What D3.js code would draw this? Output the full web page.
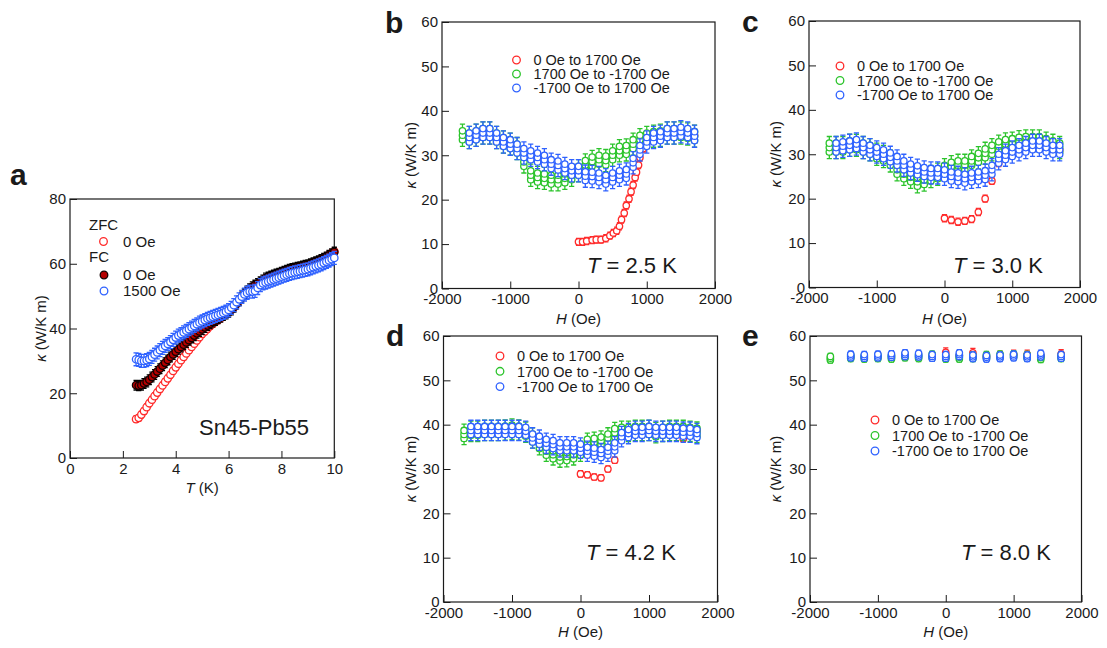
<!DOCTYPE html>
<html>
<head>
<meta charset="utf-8">
<script src="https://cdn.jsdelivr.net/npm/d3@7"></script>
<style>
	html, body { margin: 0; padding: 0; background: #fff; }
	svg { display: block; font-family: "Liberation Sans", Arial, Helvetica, sans-serif; }
</style>
</head>
<body>
<svg id="fig" width="1107" height="648"></svg>
<script>
'use strict';

// Thermal conductivity figure: panel a is κ(T), panels b-e are field loops κ(H).

// ----------------------- data -----------------------------------------

// panel a - κ vs T (K)
const tempsA = [2.5, 2.6, 2.7, 2.8, 2.9, 3.0, 3.1, 3.2, 3.3, 3.4, 3.5, 3.6, 3.7, 3.8, 3.9,
	4.0, 4.1, 4.2, 4.3, 4.4, 4.5, 4.6, 4.7, 4.8, 4.9, 5.0, 5.1, 5.2, 5.3, 5.4, 5.5, 5.6, 5.7,
	5.8, 5.9, 6.0, 6.1, 6.2, 6.3, 6.4, 6.5, 6.6, 6.7, 6.8, 6.9, 7.0, 7.1, 7.2, 7.3, 7.4, 7.5,
	7.6, 7.7, 7.8, 7.9, 8.0, 8.1, 8.2, 8.3, 8.4, 8.5, 8.6, 8.7, 8.8, 8.9, 9.0, 9.1, 9.2, 9.3,
	9.4, 9.5, 9.6, 9.7, 9.8, 9.9, 10.0];
const zfc0 = [12.0, 12.4, 13.4, 14.5, 15.7, 16.9, 18.0, 19.1, 20.2, 21.3,
	22.4, 23.5, 24.6, 25.7, 26.9, 28.0, 29.1, 30.2, 31.2, 32.3,
	33.3, 34.3, 35.3, 36.3, 37.3, 38.3, 39.1, 39.9, 40.7, 41.4,
	42.0, 42.6, 43.2, 43.8, 44.4, 45.0, 45.7, 46.5, 47.5, 48.5,
	49.6, 50.6, 51.5, 52.2, 52.8, 53.3, 53.8, 54.3, 54.9, 55.5,
	55.8, 56.1, 56.4, 56.7, 57.0, 57.3, 57.6, 57.9, 58.2, 58.5,
	58.7, 58.9, 59.1, 59.3, 59.5, 59.8, 60.1, 60.4, 60.7, 61.0,
	61.4, 61.8, 62.3, 62.8, 63.3, 63.8];
const fc0 = [22.5, 22.3, 22.5, 23.0, 23.5, 24.2, 25.0, 25.8, 26.7, 27.6,
	28.5, 29.4, 30.3, 31.2, 32.0, 32.8, 33.6, 34.3, 35.0, 35.7,
	36.4, 37.1, 37.8, 38.5, 39.1, 39.7, 40.3, 40.9, 41.5, 42.0,
	42.5, 43.0, 43.5, 44.0, 44.5, 45.0, 45.7, 46.6, 47.6, 48.6,
	49.7, 50.7, 51.6, 52.3, 52.9, 53.4, 53.9, 54.4, 55.0, 55.6,
	55.9, 56.2, 56.5, 56.8, 57.1, 57.4, 57.7, 58.0, 58.3, 58.5,
	58.7, 58.9, 59.1, 59.3, 59.5, 59.7, 60.0, 60.3, 60.6, 60.9,
	61.3, 61.7, 62.1, 62.6, 63.1, 63.6];
const fc1500 = [30.5, 30.3, 30.0, 30.0, 30.2, 30.6, 31.2, 31.9, 32.6, 33.3,
	34.0, 34.6, 35.2, 35.8, 36.5, 37.2, 37.8, 38.3, 38.8, 39.3,
	39.8, 40.3, 40.8, 41.3, 41.8, 42.2, 42.6, 43.0, 43.3, 43.6,
	43.9, 44.2, 44.5, 44.8, 45.2, 45.7, 46.4, 47.2, 48.1, 49.0,
	49.8, 50.5, 51.0, 51.4, 51.4, 51.6, 52.5, 53.4, 53.9, 54.2,
	54.5, 54.8, 55.1, 55.4, 55.7, 56.0, 56.3, 56.6, 56.9, 57.1,
	57.3, 57.5, 57.7, 57.9, 58.1, 58.3, 58.6, 58.9, 59.2, 59.5,
	59.8, 60.2, 60.6, 61.0, 61.4, 61.8];
const errA = [1.0, 1.5, 2.0];           // ZFC 0, FC 0, FC 1500 half error (W/K m)

// panels b-d - field grid of the ±1700 Oe sweeps (Oe)
const loopFields = [-1700, -1600, -1500, -1400, -1300, -1200, -1100, -1000, -900, -800,
	-700, -600, -500, -400, -300, -200, -100, 0, 100, 200, 300, 400, 500, 600, 700, 800,
	900, 1000, 1100, 1200, 1300, 1400, 1500, 1600, 1700];
const virginFields = [0, 100, 200, 300, 400, 500, 600, 700, 800, 900, 1000, 1100, 1200,
	1300, 1400, 1500, 1600, 1700];

// b - T = 2.5 K
const redFieldsB = [0, 60, 120, 200, 260, 330, 400, 460, 510, 560, 600, 630, 670, 700, 740,
	770, 800, 830, 850, 880, 900, 950, 1000, 1100, 1200, 1300, 1400, 1500, 1600, 1700];
const redB = [10.5, 10.5, 10.7, 10.9, 11, 11, 11.3, 11.9, 12.5, 13, 14, 15.5, 17, 18.7, 20.2,
	21.8, 23.3, 25, 26.2, 27.8, 29.5, 31.5, 32.8, 33.8, 34.5, 35, 35.5, 35.3, 35, 34.5];
const greenB = [34.5, 34, 34.5, 35, 35, 34, 33, 32.5, 31.5, 28.5, 25.5, 25, 24.8, 24.5, 24.5,
	24.8, 25.5, 26.5, 27.8, 28.6, 29, 28.8, 30, 31, 31.2, 32.5, 33.5, 34, 34.3, 34.5, 35, 35,
	35, 34.8, 34.3];
const blueB = [null, 34, 34.5, 35, 35, 34, 33, 32.5, 31.5, 30.5, 30, 29.5, 29, 28, 27.7, 27,
	26.5, 26.5, 25.3, 25.2, 25, 24.5, 25, 25.5, 25.8, 28.3, 31.2, 33, 34, 34.3, 35, 35, 35.3,
	35, 34.3];

// c - T = 3.0 K
const redC = [15.6, 15.2, 14.8, 15, 15.4, 17, 20, 24, 28, 29.5, 30.5, 31.5, 32, 32.5, 33, 33,
	32, 31];
const greenC = [31.5, 31.5, 31.5, 32, 32, 31.5, 31, 30, 29.5, 28.5, 26.5, 25.5, 24.8, 23.8,
	24.2, 25, 25.5, 26.5, 27.2, 27.5, 27.5, 28.5, 29.2, 30.2, 31, 31.8, 32.3, 32.5, 32.8, 33,
	33, 33, 32.5, 32, 31.5];
const blueC = [null, 31.5, 31.8, 32, 32.3, 31.5, 31, 30.5, 30, 29.3, 28.5, 27.5, 26.8, 26.4,
	26, 25.8, 25.8, 25.5, 25, 24.8, 24.5, 24.8, 25, 25.3, 26.5, 29, 29.8, 30.5, 31, 31.5, 32,
	32, 31.5, 31, 31];

// d - T = 4.2 K
const redD = [28.9, 28.7, 28.2, 28, 30, 32, 37.5, 38.3, 38.5, 38.5, 38.5, 38.5, 38.5, 38.5,
	38.3, 36.8, 38, 38.8];
const greenD = [37.8, 38.5, 38.5, 38.7, 38.7, 38.7, 38.8, 39, 38.8, 38.3, 37, 35.5, 34, 33.2,
	32.7, 32.8, 33.2, 34, 35.8, 36, 36.3, 37, 38.2, 38.5, 38.5, 38.7, 38.7, 38.7, 38.2, 38.5,
	38.7, 38.7, 38.7, 38.5, 38.3];
const blueD = [null, 38.7, 38.7, 38.7, 38.7, 38.7, 38.7, 38.7, 38.7, 38.5, 37, 36.5, 35.8,
	35.5, 35, 35, 35, 34.7, 34, 33.8, 33.5, 34, 35, 37.3, 38, 38.5, 38.5, 38.7, 38.5, 38.5,
	38.5, 38.5, 38.3, 38.3, 38];

// e - T = 8.0 K (coarser field grid)
const fieldsE = [-1700, -1400, -1200, -1000, -800, -600, -400, -200, 0, 200, 400, 600, 800,
	1000, 1200, 1400, 1700];
const redE = [null, null, null, null, null, null, null, null, 56.3, 55.6, 56.2, 55.4, 55.6,
	55.8, 55.8, 55.5, 55.9];
const greenE = [55, 55.3, 55.2, 55.3, 55.2, 55.5, 55.3, 55.5, 55.2, 55.2, 55.3, 55.4, 55.5,
	55.6, 55.4, 55.1, 55.3];
const blueE = [null, 55.5, 55.4, 55.5, 55.6, 55.8, 55.7, 55.4, 55.4, 55.8, 55.3, 55.2, 55.3,
	55.5, 55.3, 55.7, 55.4];

// repeated readings at a field sit about ±spread apart; err = error-bar half length
// order: red, green, blue
const spreadB = [0, 1.0, 1.0], errB = [0.8, 1.5, 1.5];
const spreadC = [0, 1.0, 1.0], errC = [0.8, 1.5, 1.5];
const spreadD = [0, 0.9, 0.9], errD = [0.7, 1.4, 1.4];
const spreadE = [0, 0.4, 0.4], errE = [1.0, 0.7, 0.7];

const ticksT = [0, 2, 4, 6, 8, 10];
const ticksKappaA = [0, 20, 40, 60, 80];
const ticksH = [-2000, -1000, 0, 1000, 2000];
const ticksKappa = [0, 10, 20, 30, 40, 50, 60];
const sweepLabels = ['0 Oe to 1700 Oe', '1700 Oe to -1700 Oe', '-1700 Oe to 1700 Oe'];
const tempLabels = ['2.5', '3.0', '4.2', '8.0'];

// ----------------------- look -----------------------------------------

const PALETTE = {
	ink: '#1a1a1a',
	red: '#ff2a2a',
	green: '#2cc42c',
	blue: '#2f62ff',
	darkFill: '#b50000',
	darkEdge: '#140000'
};
const SWEEP_COLORS = [PALETTE.red, PALETTE.green, PALETTE.blue];

const VIEW = {
	tick: 7,
	tickFont: 15,
	titleFont: 15,
	legendFont: 14.5,
	markerR: 3.2,
	markerRA: 3.7,
	cap: 2.6
};

const REPLICATE_STEPS = [-1, 0, 1];

const svg = d3.select('#fig');

// ----------------------- helpers --------------------------------------

function styleAxis(sel) {
	sel.select('.domain').remove();
	sel.attr('font-family', null).attr('font-size', null);
	sel.selectAll('.tick line').attr('stroke', PALETTE.ink).attr('stroke-width', 1);
	sel.selectAll('.tick text').attr('fill', PALETTE.ink).style('font-size', `${VIEW.tickFont}px`);
}

function buildPanel(box, xDomain, yDomain, xTicks, yTicks) {
	const x = d3.scaleLinear().domain(xDomain).range([box.left, box.right]);
	const y = d3.scaleLinear().domain(yDomain).range([box.bottom, box.top]);
	const g = svg.append('g');
	const fmt = (d) => String(d);

	g.append('g')
		.attr('transform', `translate(0,${box.bottom})`)
		.call(d3.axisBottom(x).tickValues(xTicks).tickSizeInner(-VIEW.tick).tickSizeOuter(0)
			.tickPadding(5).tickFormat(fmt))
		.call(styleAxis);
	g.append('g')
		.attr('transform', `translate(${box.left},0)`)
		.call(d3.axisLeft(y).tickValues(yTicks).tickSizeInner(-VIEW.tick).tickSizeOuter(0)
			.tickPadding(4).tickFormat(fmt))
		.call(styleAxis);

	g.append('rect')
		.attr('x', box.left).attr('y', box.top)
		.attr('width', box.right - box.left).attr('height', box.bottom - box.top)
		.attr('fill', 'none').attr('stroke', PALETTE.ink).attr('stroke-width', 1.2);

	return { g, x, y, plot: g.append('g') };
}

function errPath(px, yLo, yHi) {
	const c = VIEW.cap;
	return `M${px - c},${yHi}H${px + c}M${px},${yHi}V${yLo}M${px - c},${yLo}H${px + c}`;
}

// one series: every reading gets an error bar, then an open marker on top
function plotSeries(panel, xs, ys, opt) {
	const pts = [];
	xs.forEach((h, i) => {
		const v = ys[i];
		if (v == null) return;
		const steps = opt.spread ? REPLICATE_STEPS : [0];
		for (const k of steps) pts.push({ h, v: v + k * opt.spread });
	});
	const layer = panel.plot.append('g');
	layer.append('path')
		.attr('d', pts.map((p) => errPath(panel.x(p.h), panel.y(p.v - opt.err), panel.y(p.v + opt.err))).join(''))
		.attr('fill', 'none')
		.attr('stroke', opt.errColor || opt.color)
		.attr('stroke-width', 1.3);
	layer.selectAll('circle').data(pts).join('circle')
		.attr('cx', (p) => panel.x(p.h))
		.attr('cy', (p) => panel.y(p.v))
		.attr('r', opt.r || VIEW.markerR)
		.attr('fill', opt.fill || '#fff')
		.attr('stroke', opt.color)
		.attr('stroke-width', 1.3);
}

function text(x, y, str, size, extra) {
	const t = svg.append('text')
		.attr('x', x).attr('y', y)
		.attr('fill', PALETTE.ink)
		.style('font-size', `${size}px`)
		.text(str);
	if (extra) extra(t);
	return t;
}

function panelLetter(x, y, letter) {
	text(x, y, letter, 30, (t) => t.style('font-weight', 'bold'));
}

function kappaTitle(x, cy) {
	const t = svg.append('text')
		.attr('transform', `translate(${x},${cy}) rotate(-90)`)
		.attr('text-anchor', 'middle')
		.attr('fill', PALETTE.ink)
		.style('font-size', `${VIEW.titleFont}px`);
	t.append('tspan').style('font-style', 'italic').text('κ');
	t.append('tspan').text(' (W/K m)');
}

function italicTitle(cx, y, sym, rest, size) {
	const t = svg.append('text')
		.attr('x', cx).attr('y', y)
		.attr('text-anchor', 'middle')
		.attr('fill', PALETTE.ink)
		.style('font-size', `${size}px`);
	t.append('tspan').style('font-style', 'italic').text(sym);
	t.append('tspan').text(rest);
	return t;
}

function legendMarker(cx, cy, stroke, fill) {
	svg.append('circle')
		.attr('cx', cx).attr('cy', cy).attr('r', 3.8)
		.attr('fill', fill || '#fff')
		.attr('stroke', stroke)
		.attr('stroke-width', 1.3);
}

// ----------------------- panel a --------------------------------------

function drawPanelA() {
	const box = { left: 70, right: 334.3, top: 199, bottom: 458 };
	const p = buildPanel(box, [0, 10], [0, 80], ticksT, ticksKappaA);
	const r = VIEW.markerRA;

	plotSeries(p, tempsA, zfc0, { color: PALETTE.red, spread: 0, err: errA[0], r });
	plotSeries(p, tempsA, fc0, { color: PALETTE.darkEdge, fill: PALETTE.darkFill, errColor: '#000', spread: 0, err: errA[1], r });
	plotSeries(p, tempsA, fc1500, { color: PALETTE.blue, spread: 0, err: errA[2], r });

	text(89, 230, 'ZFC', 15);
	legendMarker(103.5, 241.5, PALETTE.red);
	text(123, 241.5, '0 Oe', 15, (t) => t.attr('dy', '0.36em'));
	text(89, 262, 'FC', 15);
	legendMarker(104, 275, PALETTE.darkEdge, PALETTE.darkFill);
	text(123, 275, '0 Oe', 15, (t) => t.attr('dy', '0.36em'));
	legendMarker(104, 291, PALETTE.blue);
	text(123, 291, '1500 Oe', 15, (t) => t.attr('dy', '0.36em'));

	text(199, 435, 'Sn45-Pb55', 22);
	kappaTitle(46, (box.top + box.bottom) / 2);
	italicTitle((box.left + box.right) / 2, 493, 'T', ' (K)', VIEW.titleFont);
	panelLetter(10, 185, 'a');
}

// ----------------------- panels b-e -----------------------------------

const FIELD_PANELS = [
	{
		letter: 'b', letterAt: [385, 33], temp: tempLabels[0],
		box: { left: 442, right: 715, top: 22, bottom: 288.5 },
		legendAt: [516.5, 60, 14], tempAt: [587, 273], yTitleX: 416, xTitleY: 324,
		red: [redFieldsB, redB], green: [loopFields, greenB], blue: [loopFields, blueB],
		spread: spreadB, err: errB
	},
	{
		letter: 'c', letterAt: [742, 32], temp: tempLabels[1],
		box: { left: 809, right: 1080, top: 21, bottom: 287.5 },
		legendAt: [840, 66, 14.5], tempAt: [953, 273], yTitleX: 781, xTitleY: 324,
		red: [virginFields, redC], green: [loopFields, greenC], blue: [loopFields, blueC],
		spread: spreadC, err: errC
	},
	{
		letter: 'd', letterAt: [386, 346], temp: tempLabels[2],
		box: { left: 443.5, right: 717.5, top: 336, bottom: 602 },
		legendAt: [500, 356, 15.3], tempAt: [586, 560], yTitleX: 416, xTitleY: 637,
		red: [virginFields, redD], green: [loopFields, greenD], blue: [loopFields, blueD],
		spread: spreadD, err: errD
	},
	{
		letter: 'e', letterAt: [742, 346], temp: tempLabels[3],
		box: { left: 810, right: 1081.5, top: 336, bottom: 602 },
		legendAt: [875, 420, 15.5], tempAt: [961, 560], yTitleX: 781, xTitleY: 637,
		red: [fieldsE, redE], green: [fieldsE, greenE], blue: [fieldsE, blueE],
		spread: spreadE, err: errE
	}
];

function drawFieldPanel(spec) {
	const p = buildPanel(spec.box, [-2000, 2000], [0, 60], ticksH, ticksKappa);
	[spec.red, spec.green, spec.blue].forEach(([xs, ys], i) => {
		plotSeries(p, xs, ys, { color: SWEEP_COLORS[i], spread: spec.spread[i], err: spec.err[i] });
	});

	const [lx, ly, ldy] = spec.legendAt;
	sweepLabels.forEach((label, i) => {
		legendMarker(lx, ly + i * ldy, SWEEP_COLORS[i]);
		text(lx + 17, ly + i * ldy, label, VIEW.legendFont, (t) => t.attr('dy', '0.36em'));
	});

	const t = svg.append('text')
		.attr('x', spec.tempAt[0]).attr('y', spec.tempAt[1])
		.attr('fill', PALETTE.ink)
		.style('font-size', '22px');
	t.append('tspan').style('font-style', 'italic').text('T');
	t.append('tspan').text(` = ${spec.temp} K`);

	kappaTitle(spec.yTitleX, (spec.box.top + spec.box.bottom) / 2);
	italicTitle((spec.box.left + spec.box.right) / 2, spec.xTitleY, 'H', ' (Oe)', VIEW.titleFont);
	panelLetter(spec.letterAt[0], spec.letterAt[1], spec.letter);
}

drawPanelA();
FIELD_PANELS.forEach(drawFieldPanel);
</script>
</body>
</html>
